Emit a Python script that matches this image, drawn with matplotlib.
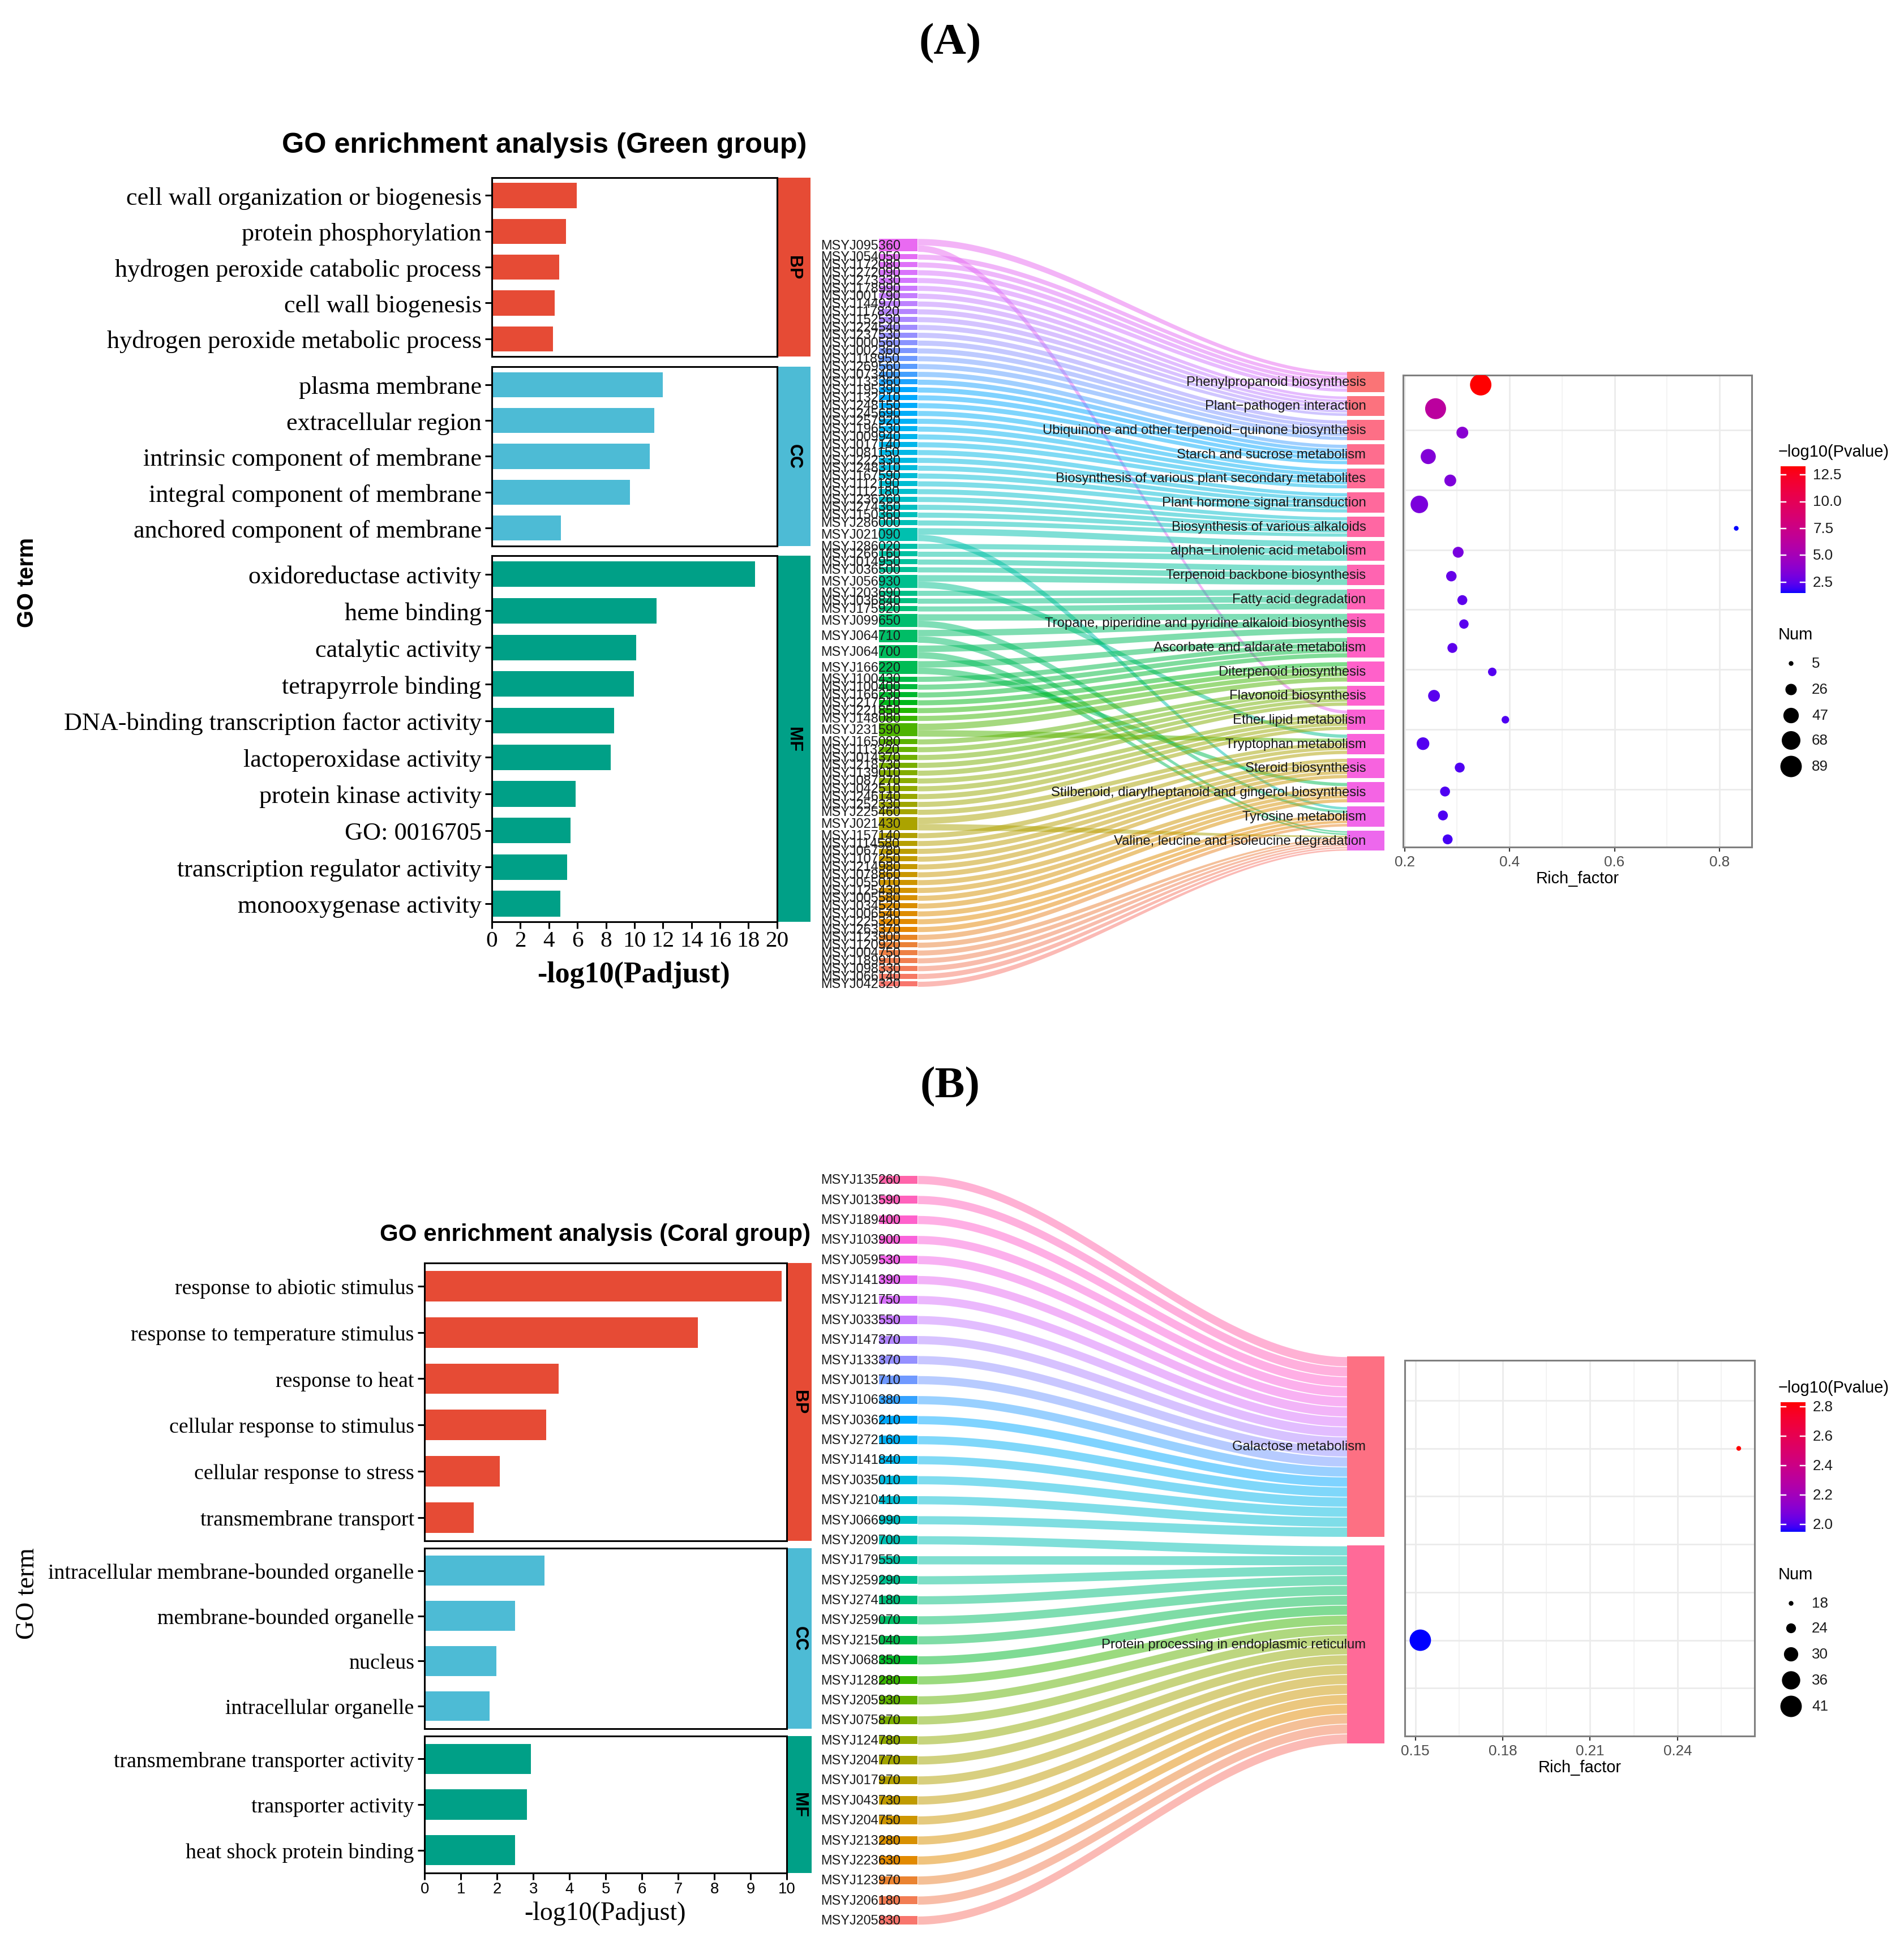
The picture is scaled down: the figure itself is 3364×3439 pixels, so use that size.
import numpy as np
import matplotlib
matplotlib.use("Agg")
from matplotlib import pyplot as plt
from matplotlib.colors import ListedColormap, Normalize, to_rgb
from matplotlib.patches import Rectangle

SERIF = "Liberation Serif"
SANS = "Liberation Sans"

# ---------------- data : panel A (Green group) ----------------
a_bp_terms = ["cell wall organization or biogenesis", "protein phosphorylation",
              "hydrogen peroxide catabolic process", "cell wall biogenesis",
              "hydrogen peroxide metabolic process"]
a_bp_vals = [5.97, 5.19, 4.71, 4.42, 4.27]
a_cc_terms = ["plasma membrane", "extracellular region", "intrinsic component of membrane",
              "integral component of membrane", "anchored component of membrane"]
a_cc_vals = [12.0, 11.38, 11.09, 9.69, 4.86]
a_mf_terms = ["oxidoreductase activity", "heme binding", "catalytic activity",
              "tetrapyrrole binding", "DNA-binding transcription factor activity",
              "lactoperoxidase activity", "protein kinase activity", "GO: 0016705",
              "transcription regulator activity", "monooxygenase activity"]
a_mf_vals = [18.45, 11.57, 10.13, 9.98, 8.58, 8.32, 5.89, 5.52, 5.27, 4.79]

a_genes = ["MSYJ095360", "MSYJ054050", "MSYJ172080", "MSYJ272090", "MSYJ273330",
           "MSYJ178990", "MSYJ001790", "MSYJ144970", "MSYJ117820", "MSYJ152530",
           "MSYJ224540", "MSYJ237530", "MSYJ000560", "MSYJ002360", "MSYJ118950",
           "MSYJ269560", "MSYJ073400", "MSYJ133360", "MSYJ195390", "MSYJ132210",
           "MSYJ248150", "MSYJ245690", "MSYJ257920", "MSYJ196530", "MSYJ009940",
           "MSYJ017140", "MSYJ081150", "MSYJ222330", "MSYJ248310", "MSYJ167590",
           "MSYJ112190", "MSYJ112180", "MSYJ236260", "MSYJ274360", "MSYJ150360",
           "MSYJ286000", "MSYJ021090", "MSYJ286020", "MSYJ266160", "MSYJ014950",
           "MSYJ036500", "MSYJ056930", "MSYJ203690", "MSYJ036840", "MSYJ175920",
           "MSYJ099650", "MSYJ064710", "MSYJ064700", "MSYJ166220", "MSYJ100430",
           "MSYJ100400", "MSYJ166230", "MSYJ217210", "MSYJ221850", "MSYJ148080",
           "MSYJ231590", "MSYJ165080", "MSYJ113220", "MSYJ014370", "MSYJ218730",
           "MSYJ139010", "MSYJ087270", "MSYJ042510", "MSYJ246140", "MSYJ252330",
           "MSYJ225460", "MSYJ021430", "MSYJ157140", "MSYJ114580", "MSYJ067780",
           "MSYJ107250", "MSYJ214980", "MSYJ078860", "MSYJ055010", "MSYJ125430",
           "MSYJ005580", "MSYJ034520", "MSYJ006540", "MSYJ225320", "MSYJ263370",
           "MSYJ123900", "MSYJ120920", "MSYJ004750", "MSYJ189910", "MSYJ098330",
           "MSYJ066140", "MSYJ042320"]
# pathway index (0 = top) reached by each gene
a_gene_paths = [[0, 14], [0], [0], [0], [0],
                [1], [1], [1], [1], [1], [1],
                [2], [2], [2], [2], [2],
                [3], [3], [3], [3], [3],
                [4], [4], [4], [4], [4],
                [5], [5], [5], [5], [5],
                [6], [6], [6], [6], [6],
                [7, 18], [7], [7], [8], [8], [8, 15], [9], [9], [9],
                [10, 18], [10, 19], [10, 19], [11, 17], [11], [11], [11],
                [12], [12], [12], [12, 15],
                [13], [13], [13], [13], [13],
                [14], [14], [14], [14],
                [15], [15, 19], [15],
                [16], [16], [16], [16], [16],
                [17], [17], [17], [17],
                [18], [18], [18], [18],
                [19], [19], [19], [19], [19], [19]]

a_paths = ["Phenylpropanoid biosynthesis", "Plant\u2212pathogen interaction",
           "Ubiquinone and other terpenoid\u2212quinone biosynthesis",
           "Starch and sucrose metabolism",
           "Biosynthesis of various plant secondary metabolites",
           "Plant hormone signal transduction", "Biosynthesis of various alkaloids",
           "alpha\u2212Linolenic acid metabolism", "Terpenoid backbone biosynthesis",
           "Fatty acid degradation",
           "Tropane, piperidine and pyridine alkaloid biosynthesis",
           "Ascorbate and aldarate metabolism", "Diterpenoid biosynthesis",
           "Flavonoid biosynthesis", "Ether lipid metabolism", "Tryptophan metabolism",
           "Steroid biosynthesis",
           "Stilbenoid, diarylheptanoid and gingerol biosynthesis",
           "Tyrosine metabolism", "Valine, leucine and isoleucine degradation"]
a_rich = [0.345, 0.259, 0.310, 0.245, 0.287, 0.228, 0.832, 0.302, 0.289, 0.310,
          0.313, 0.291, 0.367, 0.256, 0.392, 0.235, 0.305, 0.277, 0.273, 0.282]
a_num = [89, 85, 28, 45, 28, 60, 5, 24, 22, 20, 18, 20, 15, 28, 12, 32, 20, 20, 20, 20]
a_logp = [13.3, 6.3, 3.7, 3.4, 3.3, 3.2, 1.45, 3.1, 2.6, 2.4, 2.3, 2.4, 2.2, 2.3,
          2.1, 2.2, 2.1, 2.1, 2.1, 2.0]

# ---------------- data : panel B (Coral group) ----------------
b_bp_terms = ["response to abiotic stimulus", "response to temperature stimulus",
              "response to heat", "cellular response to stimulus",
              "cellular response to stress", "transmembrane transport"]
b_bp_vals = [9.85, 7.54, 3.70, 3.35, 2.08, 1.35]
b_cc_terms = ["intracellular membrane-bounded organelle", "membrane-bounded organelle",
              "nucleus", "intracellular organelle"]
b_cc_vals = [3.31, 2.50, 1.98, 1.79]
b_mf_terms = ["transmembrane transporter activity", "transporter activity",
              "heat shock protein binding"]
b_mf_vals = [2.94, 2.83, 2.49]

b_genes = ["MSYJ135260", "MSYJ013590", "MSYJ189400", "MSYJ103900", "MSYJ059530",
           "MSYJ141390", "MSYJ121750", "MSYJ033550", "MSYJ147370", "MSYJ133370",
           "MSYJ013710", "MSYJ106380", "MSYJ036210", "MSYJ272160", "MSYJ141840",
           "MSYJ035010", "MSYJ210410", "MSYJ066990", "MSYJ209700", "MSYJ179550",
           "MSYJ259290", "MSYJ274180", "MSYJ259070", "MSYJ215040", "MSYJ068350",
           "MSYJ128280", "MSYJ205930", "MSYJ075870", "MSYJ124780", "MSYJ204770",
           "MSYJ017970", "MSYJ043730", "MSYJ204750", "MSYJ213280", "MSYJ223630",
           "MSYJ123970", "MSYJ206180", "MSYJ205830"]
b_gene_paths = [[0]] * 18 + [[1]] * 20
b_paths = ["Galactose metabolism", "Protein processing in endoplasmic reticulum"]
b_rich = [0.261, 0.1517]
b_num = [18, 41]
b_logp = [2.83, 1.95]

GO_COLORS = ["#E64B35", "#4DBBD5", "#00A087"]


# ---------------- colour helpers ----------------
def xyz_to_rgb(X, Y, Z):
    r = 3.2406 * X - 1.5372 * Y - 0.4986 * Z
    g = -0.9689 * X + 1.8758 * Y + 0.0415 * Z
    b = 0.0557 * X - 0.2040 * Y + 1.0570 * Z
    gam = lambda c: 12.92 * c if c <= 0.0031308 else 1.055 * c ** (1 / 2.4) - 0.055
    return tuple(min(1, max(0, gam(c))) for c in (r, g, b))


def hue_color(h, c=100, l=65):
    hr = np.radians(h)
    U, V = c * np.cos(hr), c * np.sin(hr)
    Xn, Yn, Zn = 0.95047, 1.0, 1.08883
    un = 4 * Xn / (Xn + 15 * Yn + 3 * Zn)
    vn = 9 * Yn / (Xn + 15 * Yn + 3 * Zn)
    Y = Yn * ((l + 16) / 116) ** 3
    u = U / (13 * l) + un
    v = V / (13 * l) + vn
    X = 9 * Y * u / (4 * v)
    Z = (12 - 3 * u - 20 * v) * Y / (4 * v)
    return xyz_to_rgb(X, Y, Z)


def hue_pal(n):
    return [hue_color(15 + 360 * i / n) for i in range(n)]


def to_lab(col):
    lin = lambda c: c / 12.92 if c <= 0.04045 else ((c + 0.055) / 1.055) ** 2.4
    r, g, b = [lin(c) for c in to_rgb(col)]
    X = (0.4124 * r + 0.3576 * g + 0.1805 * b) / 0.95047
    Y = 0.2126 * r + 0.7152 * g + 0.0722 * b
    Z = (0.0193 * r + 0.1192 * g + 0.9505 * b) / 1.08883
    f = lambda t: t ** (1 / 3) if t > 0.008856 else 7.787 * t + 16 / 116
    return 116 * f(Y) - 16, 500 * (f(X) - f(Y)), 200 * (f(Y) - f(Z))


def from_lab(L, a, b):
    fy = (L + 16) / 116
    fx, fz = fy + a / 500, fy - b / 200
    finv = lambda t: t ** 3 if t ** 3 > 0.008856 else (t - 16 / 116) / 7.787
    return xyz_to_rgb(0.95047 * finv(fx), finv(fy), 1.08883 * finv(fz))


lab1, lab2 = np.array(to_lab("blue")), np.array(to_lab("red"))
BLUE_RED = ListedColormap([from_lab(*(lab1 + (lab2 - lab1) * t)) for t in np.linspace(0, 1, 256)])

# ---------------- figure ----------------
W, H = 1529.1, 1563.6
fig = plt.figure(figsize=(W / 100, H / 100), dpi=220)


def rect(x0, y0, x1, y1):
    return [x0 / W, 1 - y1 / H, (x1 - x0) / W, (y1 - y0) / H]


ov = fig.add_axes([0, 0, 1, 1])
ov.set_xlim(0, W)
ov.set_ylim(H, 0)
ov.axis("off")

ov.text(763, 35, "(A)", fontsize=26, fontweight="bold", family=SERIF, ha="center", va="center")
ov.text(763, 873, "(B)", fontsize=26, fontweight="bold", family=SERIF, ha="center", va="center")


# ---------------- GO bar panels ----------------
def go_block(groups, x0, x1, strip_x1, tops, xmax, lab_fs, bar_h, tick_fs, tick_font):
    for k, (terms, vals, y0, y1) in enumerate(groups):
        ax = fig.add_axes(rect(x0, y0, x1, y1))
        n = len(terms)
        ax.barh(np.arange(n), vals, height=bar_h, color=GO_COLORS[k])
        ax.set_ylim(n - 0.5, -0.5)
        ax.set_xlim(0, xmax)
        ax.set_yticks(np.arange(n))
        ax.set_yticklabels(terms, family=SERIF, fontsize=lab_fs)
        ax.tick_params(axis="y", length=4, width=1, pad=2)
        for s in ax.spines.values():
            s.set_linewidth(1.0)
        if k == len(groups) - 1:
            ax.set_xticks(tops)
            ax.set_xticklabels([str(t) for t in tops], family=tick_font, fontsize=tick_fs)
            ax.tick_params(axis="x", length=4, width=1, pad=1)
        else:
            ax.set_xticks([])
        ov.add_patch(Rectangle((x1, y0), strip_x1 - x1, y1 - y0, color=GO_COLORS[k], lw=0))
        ov.text((x1 + strip_x1) / 2, (y0 + y1) / 2, ["BP", "CC", "MF"][k], rotation=-90,
                fontsize=10, fontweight="bold", family=SANS, ha="center", va="center")


go_block([(a_bp_terms, a_bp_vals, 143, 287), (a_cc_terms, a_cc_vals, 295, 439),
          (a_mf_terms, a_mf_vals, 447, 741)],
         395, 624, 651, list(range(0, 21, 2)), 20, 14.5, 0.7, 13.5, SERIF)
ov.text(437, 117, "GO enrichment analysis (Green group)", fontsize=16.5, fontweight="bold",
        family=SANS, ha="center", va="center")
ov.text(22, 468, "GO term", rotation=90, fontsize=13, fontweight="bold", family=SANS,
        ha="center", va="center")
ov.text(509, 783, "-log10(Padjust)", fontsize=17, fontweight="bold", family=SERIF,
        ha="center", va="center")

go_block([(b_bp_terms, b_bp_vals, 1015, 1238), (b_cc_terms, b_cc_vals, 1244, 1389),
          (b_mf_terms, b_mf_vals, 1395, 1505)],
         341, 632, 652, list(range(0, 11)), 10, 12.4, 0.66, 9, SANS)
ov.text(478, 992, "GO enrichment analysis (Coral group)", fontsize=13.8, fontweight="bold",
        family=SANS, ha="center", va="center")
ov.text(22, 1280, "GO term", rotation=90, fontsize=15, family=SERIF, ha="center", va="center")
ov.text(486, 1537, "-log10(Padjust)", fontsize=15, family=SERIF, ha="center", va="center")


# ---------------- sankey ----------------
def sankey(genes, gene_paths, paths, gy0, gy1, gap, box_tops, box_bots, alpha):
    ng, npth = len(genes), len(paths)
    pal = hue_pal(ng + npth)
    gcol = [pal[ng - 1 - i] for i in range(ng)]
    pcol = [pal[ng + npth - 1 - j] for j in range(npth)]
    units = sum(len(p) for p in gene_paths)
    unit = (gy1 - gy0) / units
    flows = []
    y = gy0
    for i, name in enumerate(genes):
        w = len(gene_paths[i])
        top, bot = y + gap / 2, y + w * unit - gap / 2
        y += w * unit
        ov.add_patch(Rectangle((706, top), 31, bot - top, color=gcol[i], lw=0, zorder=2))
        ov.text(659, (top + bot) / 2, name, fontsize=7.7, family=SANS, ha="left",
                va="center", color="#1a1a1a", zorder=5)
        part = (bot - top) / w
        for k, p in enumerate(sorted(gene_paths[i])):
            flows.append([i, p, top + k * part, top + (k + 1) * part])
    for j in range(npth):
        inflow = sorted([f for f in flows if f[1] == j], key=lambda f: f[2])
        th = (box_bots[j] - box_tops[j]) / len(inflow)
        for k, f in enumerate(inflow):
            f += [box_tops[j] + k * th + 0.3, box_tops[j] + (k + 1) * th - 0.3]
        ov.add_patch(Rectangle((1082, box_tops[j]), 30, box_bots[j] - box_tops[j],
                               color=pcol[j], lw=0, zorder=2))
    t = np.linspace(0, 1, 80)
    s = t * t * (3 - 2 * t)
    xs = 737 + (1082 - 737) * t
    for i, p, l0, l1, r0, r1 in flows:
        ov.fill_between(xs, l0 + (r0 - l0) * s, l1 + (r1 - l1) * s, color=gcol[i],
                        alpha=alpha, lw=0, zorder=1)
    for j, name in enumerate(paths):
        ov.text(1097, (box_tops[j] + box_bots[j]) / 2, name, fontsize=7.8, family=SANS,
                ha="right", va="center", color="#1a1a1a", zorder=5)


a_box_tops = [299 + 19.4 * j for j in range(len(a_paths))]
sankey(a_genes, a_gene_paths, a_paths, 191, 794, 2.2, a_box_tops,
       [b + 16.2 for b in a_box_tops], 0.5)
sankey(b_genes, b_gene_paths, b_paths, 940, 1551, 9.5, [1090, 1242], [1235, 1401], 0.5)


# ---------------- dot plots ----------------
def dot_d(v, vmin, vmax):
    return 3.8 + 13.4 * (np.sqrt(v) - np.sqrt(vmin)) / (np.sqrt(vmax) - np.sqrt(vmin))


def dot_panel(box, rich, num, logp, xlim, ylim, yvals, majors, minors, hgrid, fmt):
    ax = fig.add_axes(rect(*box))
    ax.set_xlim(*xlim)
    ax.set_ylim(*ylim)
    for x in majors:
        ax.axvline(x, color="#EBEBEB", lw=0.9, zorder=0)
    for x in minors:
        ax.axvline(x, color="#F2F2F2", lw=0.6, zorder=0)
    for yv in hgrid:
        ax.axhline(yv, color="#EBEBEB", lw=0.9, zorder=0)
    norm = Normalize(min(logp), max(logp))
    sizes = [(0.72 * dot_d(v, min(num), max(num))) ** 2 for v in num]
    ax.scatter(rich, yvals, s=sizes, c=logp, cmap=BLUE_RED, norm=norm, lw=0, zorder=3)
    ax.set_xticks(majors)
    ax.set_xticklabels([fmt.format(x) for x in majors], fontsize=8.5, family=SANS,
                       color="#4D4D4D")
    ax.set_yticks([])
    ax.tick_params(axis="x", length=2.5, width=0.7, color="#333333", pad=2)
    ax.set_xlabel("Rich_factor", fontsize=9.5, family=SANS, labelpad=1)
    for sp in ax.spines.values():
        sp.set_color("#7F7F7F")
        sp.set_linewidth(1.0)
    return norm


def legend_block(norm, ticks, tick_fmt, cb_box, title_y, nums, num_y, num_lo, num_hi):
    ov.text(1428, cb_box[1] - 12, "\u2212log10(Pvalue)", fontsize=9.5, family=SANS,
            ha="left", va="center")
    cax = fig.add_axes(rect(*cb_box))
    grad = np.linspace(norm.vmin, norm.vmax, 256)[:, None]
    cax.imshow(grad, aspect="auto", cmap=BLUE_RED, norm=norm, origin="lower",
               extent=[0, 1, norm.vmin, norm.vmax])
    cax.set_xlim(0, 1)
    cax.set_ylim(norm.vmin, norm.vmax)
    cax.axis("off")
    for tv in ticks:
        cax.plot([0, 0.2], [tv, tv], color="white", lw=0.8)
        cax.plot([0.8, 1], [tv, tv], color="white", lw=0.8)
        cax.text(1.3, tv, tick_fmt.format(tv), fontsize=8.5, family=SANS, color="#1a1a1a",
                 ha="left", va="center", transform=cax.transData)
    ov.text(1428, title_y, "Num", fontsize=9.5, family=SANS, ha="left", va="center")
    for v, yy in zip(nums, num_y):
        ov.scatter([1438], [yy], s=(0.72 * dot_d(v, num_lo, num_hi)) ** 2, color="black", lw=0)
        ov.text(1455, yy, str(v), fontsize=8.5, family=SANS, ha="left", va="center",
                color="#1a1a1a")


a_y = list(range(len(a_paths), 0, -1))
norm_a = dot_panel((1127, 302, 1407, 681), a_rich, a_num, a_logp, (0.1975, 0.862),
                   (0.67, 20.39), a_y, [0.2, 0.4, 0.6, 0.8], [0.3, 0.5, 0.7],
                   [18.1, 15.6, 13.1, 10.6, 8.1, 5.6, 3.1], "{:.1f}")
legend_block(norm_a, [2.5, 5.0, 7.5, 10.0, 12.5], "{:.1f}", (1430, 375, 1450, 477), 510,
             [5, 26, 47, 68, 89], [533, 554, 575, 595, 616], min(a_num), max(a_num))

b_y = [2, 1]
norm_b = dot_panel((1128, 1093, 1409, 1395), b_rich, b_num, b_logp, (0.1463, 0.2664),
                   (0.5, 2.46), b_y, [0.15, 0.18, 0.21, 0.24], [0.165, 0.195, 0.225, 0.255],
                   [0.75, 1.0, 1.25, 1.5, 1.75, 2.0, 2.25], "{:.2f}")
legend_block(norm_b, [2.0, 2.2, 2.4, 2.6, 2.8], "{:.1f}", (1430, 1127, 1450, 1231), 1265,
             [18, 24, 30, 36, 41], [1288, 1308, 1329, 1350, 1371], min(b_num), max(b_num))

fig.savefig("out.png", dpi=220, facecolor="white")
